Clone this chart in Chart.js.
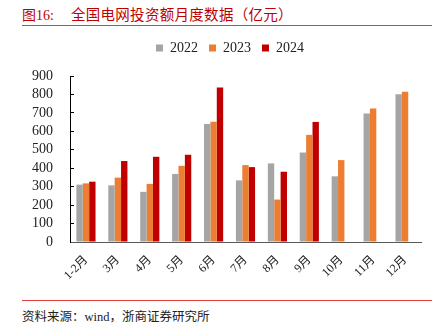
<!DOCTYPE html>
<html>
<head>
<meta charset="utf-8">
<script src="https://cdn.jsdelivr.net/npm/chart.js@4"></script>
<style>
  body { margin: 0; background: #fff; width: 439px; height: 330px; position: relative; overflow: hidden;
         font-family: 'Liberation Serif', 'Noto Sans CJK SC', serif; }
  #title { position: absolute; left: 22px; top: 3px; font-size: 14px; color: #C00000; white-space: nowrap; }
  #title .name { margin-left: 17px; font-size: 14.5px; letter-spacing: 0.3px; }
  .rule { position: absolute; left: 22px; width: 410px; height: 1px; background: #E03C3C; }
  #source { position: absolute; left: 22px; top: 306px; font-size: 12.5px; color: #222; white-space: nowrap; }
  #wrap { position: absolute; left: 0; top: 30px; width: 439px; height: 265px; }
</style>
</head>
<body>
<div id="title">图16:<span class="name">全国电网投资额月度数据（亿元）</span></div>
<div class="rule" style="top:25px"></div>
<div id="wrap"><canvas id="chart"></canvas></div>
<div class="rule" style="top:300px"></div>
<div id="source">资料来源：wind，浙商证券研究所</div>
<script>
// 月份
const months = ['1-2月', '3月', '4月', '5月', '6月', '7月', '8月', '9月', '10月', '11月', '12月'];
// 各年投资额（亿元）
const v2022 = [311, 307, 272, 369, 640, 334, 426, 485, 356, 697, 801];
const v2023 = [318, 349, 315, 413, 652, 417, 230, 581, 444, 724, 814];
const v2024 = [327, 439, 462, 473, 838, 406, 381, 651, null, null, null];
const yTicks = [0, 100, 200, 300, 400, 500, 600, 700, 800, 900];

const fontFamily = "'Liberation Serif', 'Noto Sans CJK SC', serif";

// 凡例の下に余白を追加、y軸ラベルが切れないようにする
const layoutFix = {
    id: 'layoutFix',
    beforeInit(chart) {
        const fit = chart.legend.fit;
        chart.legend.fit = function () {
            fit.bind(this)();
            this.height += 11;
        };
    },
    afterLayout(chart) {
        chart.scales.y.left = 0;
    }
};

new Chart(document.getElementById('chart'), {
    type: 'bar',
    data: {
        labels: months,
        datasets: [
            { label: '2022', data: v2022, backgroundColor: '#A5A5A5' },
            { label: '2023', data: v2023, backgroundColor: '#ED7D31' },
            { label: '2024', data: v2024, backgroundColor: '#C00000' }
        ]
    },
    options: {
        responsive: true,
        maintainAspectRatio: false,
        animation: false,
        layout: { padding: { left: 39, right: 18, top: 0, bottom: 0 } },
        datasets: { bar: { categoryPercentage: 0.6, barPercentage: 1.0 } },
        plugins: {
            tooltip: { enabled: false },
            legend: {
                position: 'top',
                labels: {
                    boxWidth: 7, boxHeight: 7, padding: 11,
                    color: '#222',
                    font: { family: fontFamily, size: 14 }
                }
            }
        },
        scales: {
            x: {
                grid: { display: false },
                border: { color: '#595959', width: 1 },
                ticks: {
                    color: '#222', maxRotation: 45, minRotation: 45, autoSkip: false,
                    font: { family: fontFamily, size: 12 }
                },
                afterFit: scale => { scale.height = 53; }
            },
            y: {
                min: 0, max: 900,
                afterBuildTicks: scale => { scale.ticks = yTicks.map(v => ({ value: v })); },
                grid: { drawOnChartArea: false, tickLength: -4, color: '#000' },
                border: { color: '#000', width: 1 },
                ticks: {
                    color: '#222', padding: 21, autoSkip: false,
                    font: { family: fontFamily, size: 14 }
                },
                afterFit: scale => { scale.width = 31; }
            }
        }
    },
    plugins: [layoutFix]
});
</script>
</body>
</html>
